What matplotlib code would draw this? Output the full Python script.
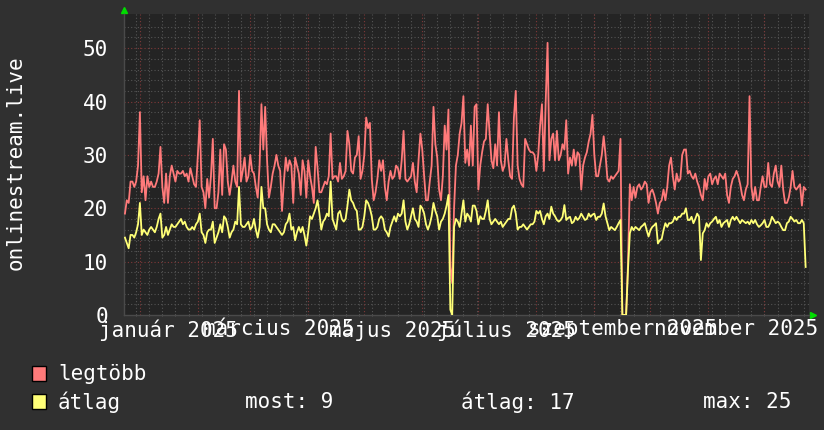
import numpy as np
import pandas as pd
import matplotlib
matplotlib.use("Agg")
import matplotlib.pyplot as plt
import matplotlib.dates as mdates
from matplotlib.ticker import FixedLocator
from matplotlib.patches import Rectangle

plt.rcParams['font.family'] = 'DejaVu Sans Mono'

# daily values, starting 2024-12-24
legtobb = [
    19, 21.5, 21, 25, 25, 24, 25, 28, 38, 23,
    26, 21.5, 26, 24, 25, 24, 24, 25, 26.5, 31.5,
    24, 21, 26.5, 21, 26, 28, 26.5, 25, 27, 26.5,
    26.5, 27, 26, 26.5, 25, 27.5, 26, 24.5, 24, 30,
    36.5, 24, 23, 20, 25.5, 22, 26, 33, 20, 20,
    23, 31, 22.5, 32, 31, 25, 22.5, 25, 28, 25,
    24, 42, 25, 27, 29.5, 25, 26, 30, 27, 26.5,
    24, 22, 28, 39.5, 31, 39, 29, 22, 24, 26.5,
    28, 30, 28, 27, 19.5, 25, 29.5, 27, 29, 28,
    21, 29.5, 28, 26.5, 22.5, 29, 27, 22, 29, 26,
    24, 21, 31.5, 27.5, 23, 23, 24, 25, 24.5, 26,
    34, 25.5, 26, 26, 25, 28.5, 25.5, 26, 27, 34.5,
    32, 27, 26.5, 29.5, 30, 33.5, 25.5, 27, 30, 37,
    35, 36, 25.5, 21.5, 23, 25.5, 29, 27, 29, 24,
    21.5, 25, 27, 25.5, 26, 28, 27.5, 25.5, 29, 34.5,
    25.5, 25, 25.5, 26, 28.5, 25, 23, 29, 34, 31,
    26, 21.5, 21.5, 25, 28, 39, 32, 29.5, 23.5, 21.5,
    26, 35.5, 31, 38.5, 9, 6, 20, 28, 30, 34,
    36, 41, 28.5, 31, 28, 35.5, 28, 39, 39.5, 23.5,
    28, 30.5, 32.5, 33, 39.5, 34, 29, 27.5, 32, 28,
    38, 29, 27, 28, 33, 29, 26, 25.5, 37, 42,
    28, 25.5, 24.5, 24, 33, 32, 31, 30.5, 30.5, 30,
    27, 30, 35.5, 39.5, 27, 40, 51, 29, 33, 34,
    29, 34.5, 29, 30, 32, 31, 36.5, 26.5, 29.5, 28,
    31, 28, 30.5, 30, 23.5, 28, 29.5, 30.5, 32.5, 34,
    37.5, 30, 26, 26, 28, 30, 33.5, 30, 25.5, 25,
    26, 25.5, 26, 26.5, 27, 33, 0, 0, 0, 9.5,
    24.5, 21.5, 24, 22, 24, 24.5, 23.5, 24, 25, 24.5,
    21, 23, 23.5, 22.5, 21, 19, 21, 21.5, 23.5, 21.5,
    24, 28, 29.5, 26, 23.5, 26.5, 25, 25.5, 30, 31,
    31, 26.5, 27, 26, 25.5, 26.5, 25, 24, 22.5, 21.5,
    25.5, 23.5, 26, 26.5, 24.5, 25.5, 26, 24.5, 26.5, 26,
    25.5, 26.5, 22.5, 21, 24, 25.5, 26, 27, 26, 24.5,
    22.5, 21.5, 23.5, 24.5, 41, 24, 21.5, 24, 21.5, 21.5,
    24, 26, 24, 24, 28.5, 24.5, 24, 26.5, 28, 25,
    24, 28, 23.5, 21, 21, 22, 24, 27, 24, 23.5,
    24, 24.5, 20.5, 24, 23.5,
]

atlag = [
    14.5, 13.5, 12.5, 15, 15, 14.5, 15.5, 17, 21, 15,
    16, 15.5, 15, 16, 16.5, 16, 15.5, 16.5, 18, 19,
    14.5, 15, 16.5, 15, 16, 17, 16.5, 16.5, 17, 17.5,
    18, 17, 17.5, 16.5, 16, 16, 16.5, 16, 17, 17.5,
    19, 15.5, 15, 13.5, 15.5, 16, 16, 17.5, 13.5, 14.5,
    15.5, 17, 15.5, 18.5, 18, 16.5, 14.5, 15.5, 16, 17.5,
    17, 24, 17, 16.5, 16.5, 17, 17.5, 16, 16.5, 18,
    16, 14.5, 16.5, 24, 20, 20, 17, 16, 15.5, 17,
    17, 16.5, 16, 15.5, 15, 15.5, 17, 17.5, 19, 16,
    16.5, 14, 15.5, 16.5, 15.5, 16.5, 15, 13, 15.5, 18.5,
    18, 19, 20, 21.5, 19, 16, 17.5, 18, 19, 18.5,
    25, 18, 17, 16, 19, 19.5, 18, 17.5, 18, 20.5,
    23.5, 21.5, 21, 20, 19.5, 16, 16, 16.5, 18.5, 21.5,
    21, 20, 18.5, 16, 16, 16.5, 18, 18.5, 18, 16,
    15.5, 14.7, 16.5, 17.5, 18.5, 17.5, 19, 18.5, 19, 21.5,
    17.5, 16, 17, 18.5, 20, 18, 17.5, 16.5, 20.5, 20,
    19, 17, 16, 17, 18.5, 21, 19.5, 18.5, 16, 17.5,
    18, 19, 20.5, 22.5, 1, 0, 16.5, 18, 17.5, 16.5,
    19, 21.5, 17.5, 19, 18.5, 17.5, 20.5, 20.5, 19.5, 17,
    18.5, 18, 18, 19.5, 21.5, 18, 17, 17.5, 18, 17.5,
    17, 17.5, 16.5, 17, 17.5, 18, 18, 20, 20.5, 19,
    16, 16.5, 16.5, 17, 16.5, 16, 16.5, 17, 17, 17.5,
    19.5, 19, 19.5, 18, 17, 18.5, 19, 18, 20.3, 19,
    18.5, 17.8, 17.5, 17.8, 18.4, 20.6, 17.8, 18.2, 18.4, 17.2,
    17.5, 18.4, 17.8, 18.2, 19, 18.4, 17.8, 18, 19, 18.4,
    18.8, 19, 17.8, 18.4, 18.4, 19, 20.9, 18.5, 17.2, 15.9,
    16.5, 16.2, 15.9, 16.5, 17.2, 17.8, 0, 0, 0, 8.5,
    15.3, 16.5, 15.9, 16.5, 16.2, 15.9, 16.5, 16.8, 17.2, 15.9,
    14.7, 15.9, 16.5, 16.8, 17.2, 13.4, 14, 14.2, 15.9, 17.2,
    16.5, 17.2, 17.2, 17.5, 18.4, 17.8, 18.4, 18.4, 19, 19,
    20, 17.8, 17.8, 18.4, 17.2, 18, 19, 18.4, 10.3, 15.3,
    15.9, 17.2, 16.5, 17.2, 17.5, 18, 18.4, 17.2, 17.8, 16.5,
    17.2, 17.5, 17.8, 16.5, 17.8, 18.4, 17.8, 18.4, 17.8, 17.2,
    17.8, 17.5, 17.2, 17.5, 17, 17.8, 17.2, 17.8, 17, 16.5,
    16.8, 17.2, 17.8, 16.5, 16.5, 17.2, 18.4, 17.8, 17.2, 17.5,
    17.2, 16.5, 15.9, 15.9, 17.2, 17.5, 18.4, 18, 17.5, 17.8,
    17.2, 17.2, 17.8, 17.2, 9,
]

month_labels = ["január 2025", "március 2025", "május 2025",
                "július 2025", "szeptember 2025", "november 2025"]
label_dates = pd.to_datetime(["2025-01-16", "2025-03-16", "2025-05-16",
                              "2025-07-16", "2025-09-16", "2025-11-16"])

start = pd.Timestamp("2024-12-24")
d_red = pd.date_range(start, periods=len(legtobb), freq="D")
d_yel = pd.date_range(start, periods=len(atlag), freq="D")

BG = "#303030"
PLOT_BG = "#242424"
FG = "#ffffff"
RED = "#ff7a7a"
YEL = "#ffff77"

fig = plt.figure(figsize=(8.24, 4.30), dpi=100, facecolor=BG)
ax = fig.add_axes([124/824, 1-315/430, 685/824, 301/430], facecolor=PLOT_BG)

x0 = start - pd.Timedelta(hours=12)
x1 = start + pd.Timedelta(days=365.8)
ax.set_xlim(x0, x1)
ax.set_ylim(0, 56.4)

# grid: minor gray, major red
for y in np.arange(2, 56, 2):
    if y % 10 == 0:
        continue
    ax.axhline(y, color="#555555", lw=0.8, ls=(0, (1, 2)), zorder=1)
for y in range(10, 51, 10):
    ax.axhline(y, color="#803838", lw=0.8, ls=(0, (1, 2)), zorder=1)
weeks = pd.date_range("2024-12-30", x1, freq="7D")
for w in weeks:
    ax.axvline(w, color="#555555", lw=0.8, ls=(0, (1, 2)), zorder=1)
months = pd.date_range("2025-01-01", x1, freq="MS")
for m in months:
    ax.axvline(m, color="#803838", lw=0.8, ls=(0, (1, 2)), zorder=1)

ax.plot(d_red, legtobb, color=RED, lw=1.3, zorder=3)
ax.plot(d_yel, atlag, color=YEL, lw=1.3, zorder=4)

ax.set_yticks(range(0, 51, 10))
ax.set_yticklabels([str(v) for v in range(0, 51, 10)])
ax.set_xticks(label_dates)
ax.set_xticklabels(month_labels)
ax.xaxis.set_minor_locator(FixedLocator(mdates.date2num(weeks)))
ax.tick_params(axis="y", length=0, pad=11.5, labelsize=15, colors=FG)
ax.tick_params(axis="x", which="major", length=0, pad=3, labelsize=15, colors=FG)
ax.tick_params(axis="x", which="minor", length=2, direction="inout", color="#666666")
for s in ["top", "right"]:
    ax.spines[s].set_visible(False)
for s in ["left", "bottom"]:
    ax.spines[s].set_color("#4a4a4a")
    ax.spines[s].set_linewidth(1)

# arrows at axis ends
ax.plot([0], [1.012], marker="^", color="#00dd00", ms=5, transform=ax.transAxes, clip_on=False)
ax.plot([1.006], [0], marker=">", color="#00dd00", ms=5, transform=ax.transAxes, clip_on=False)

fig.text(16/824, 1-163/430, "onlinestream.live", rotation=90, ha="center", va="center",
         color=FG, fontsize=15)

# legend
fig.patches.append(Rectangle((32/824, 1-381/430), 14/824, 15/430, transform=fig.transFigure,
                             facecolor=RED, edgecolor="black", lw=1))
fig.patches.append(Rectangle((32/824, 1-409/430), 14/824, 15/430, transform=fig.transFigure,
                             facecolor=YEL, edgecolor="black", lw=1))
fig.text(58/824, 1-374/430, "legtöbb", ha="left", va="center", color=FG, fontsize=15)
fig.text(58/824, 1-402/430, "átlag", ha="left", va="center", color=FG, fontsize=15)

a = np.array(atlag)
fig.text(245/824, 1-402/430, "most: %.0f" % a[-1], ha="left", va="center", color=FG, fontsize=15)
fig.text(461/824, 1-402/430, "átlag: %.0f" % a.mean(), ha="left", va="center", color=FG, fontsize=15)
fig.text(703/824, 1-402/430, "max: %.0f" % a.max(), ha="left", va="center", color=FG, fontsize=15)

fig.savefig("out.png", dpi=100, facecolor=BG)
